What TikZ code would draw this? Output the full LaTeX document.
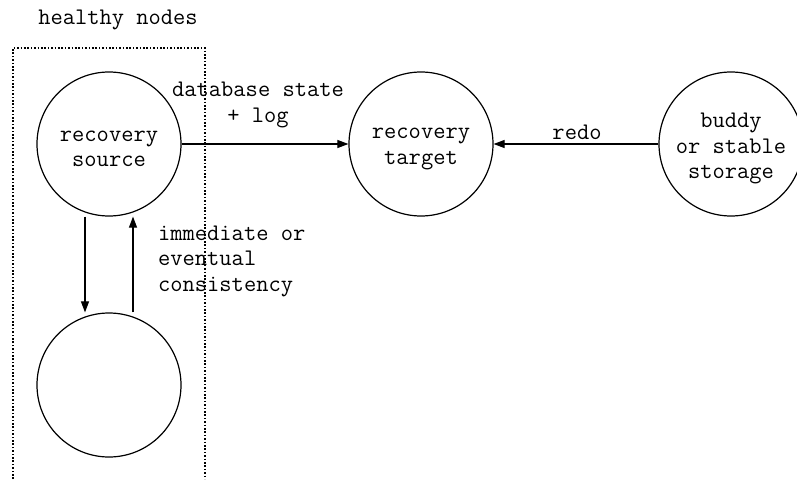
\documentclass[tikz,border=0pt]{standalone}
\usepackage{fontspec}
\usetikzlibrary{arrows.meta}
% invisible strut that drops the text block inside a circle a little
\newcommand\tstrut[1]{\rule{0pt}{#1}}
\tikzset{
  state/.style={draw, circle, line width=1.2pt, minimum size=144pt, inner sep=0pt, align=center},
  flow/.style={line width=1.1pt, -{Triangle[length=11pt,width=8pt]}},
  lbl/.style={inner sep=0pt},
  group/.style={line width=1.2pt, dash pattern=on 1.6pt off 1.8pt}
}
\begin{document}
\begin{tikzpicture}[x=1pt,y=-1pt,font=\ttfamily\fontsize{23.8}{25.5}\selectfont]
\useasboundingbox (0,0) rectangle (797,479);
\clip (0,0) rectangle (797,479);

% group outline for the healthy nodes, open at the bottom
\draw[group] (13,479) -- (13,48) -- (205,48) -- (205,479);
\node[lbl, anchor=base] (grp) at (118,24) {healthy nodes};

% states
\node[state] (src) at (109,144) {\tstrut{20pt}recovery\\source};
\node[state] (tgt) at (421,144) {\tstrut{20pt}recovery\\target};
\node[state] (bud) at (731,144) {\tstrut{24pt}buddy\\or stable\\storage};
\node[state] (rep) at (109,385) {};

% transfers
\draw[flow] (src.east) -- (tgt.west);
\draw[flow] (bud.west) -- (tgt.east);
\draw[flow] ([xshift=-24pt]src.south) -- ([xshift=-24pt]rep.north);
\draw[flow] ([xshift=24pt]rep.north) -- ([xshift=24pt]src.south);

% labels (base anchor sits on the last line)
\node[lbl, anchor=base, align=center] (dbl) at (258,122) {database state\\+ log};
\node[lbl, anchor=base] (redo) at (577,139) {redo};
\node[lbl, anchor=base west, align=left] (cons) at (158,291) {immediate or\\eventual\\consistency};
\end{tikzpicture}
\end{document}
